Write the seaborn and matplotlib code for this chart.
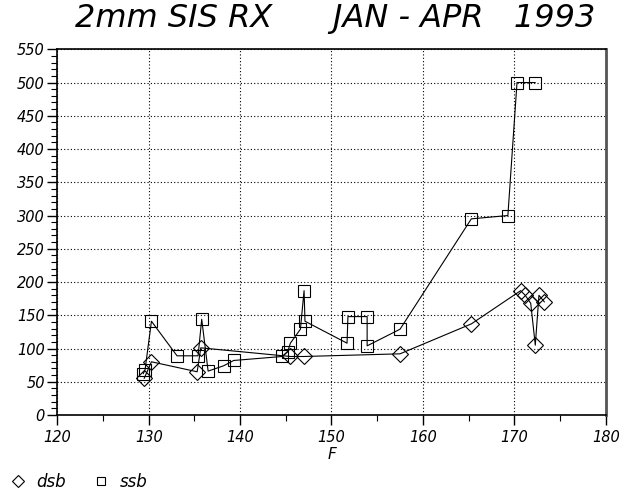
import matplotlib
matplotlib.use("Agg")
import matplotlib.pyplot as plt
import seaborn as sns
import pandas as pd
from matplotlib.lines import Line2D
from matplotlib.ticker import MultipleLocator

# dsb series (diamonds)
dsb_f = [129.5, 130.3, 135.3, 135.7, 145.5, 147.0, 157.5, 165.3,
         170.7, 171.2, 171.8, 172.3, 172.7, 173.3]
dsb_v = [55, 80, 65, 101, 88, 88, 92, 137, 187, 180, 168, 105, 180, 170]

# ssb series (squares)
ssb_f = [129.4, 129.6, 130.3, 133.1, 135.4, 135.8, 136.5, 138.2, 139.3,
         144.6, 145.2, 145.5, 146.6, 147.0, 147.1, 151.7, 151.8, 153.9,
         153.9, 157.5, 165.3, 169.3, 170.3, 172.3]
ssb_v = [62, 68, 141, 89, 89, 144, 66, 74, 82,
         88, 95, 108, 129, 187, 141, 108, 148, 148,
         104, 129, 295, 300, 500, 500]

title = "2mm SIS RX      JAN - APR   1993"

sns.set_style("white")
plt.rcParams['font.family'] = ['DejaVu Sans']
plt.rcParams['font.style'] = 'italic'
plt.rcParams['text.color'] = 'black'
plt.rcParams['axes.labelcolor'] = 'black'
plt.rcParams['xtick.color'] = 'black'
plt.rcParams['ytick.color'] = 'black'

fig = plt.figure(figsize=(6.21, 4.91), dpi=100)
ax = fig.add_axes([0.0923, 0.1548, 0.883, 0.7448])

dsb = pd.DataFrame({"F": dsb_f, "v": dsb_v})
ssb = pd.DataFrame({"F": ssb_f, "v": ssb_v})

sns.lineplot(data=ssb, x="F", y="v", sort=False, estimator=None, color="black",
             lw=0.8, marker="s", markersize=8, markerfacecolor="none",
             markeredgecolor="black", markeredgewidth=0.8, ax=ax)
sns.lineplot(data=dsb, x="F", y="v", sort=False, estimator=None, color="black",
             lw=0.8, marker="D", markersize=8.5, markerfacecolor="none",
             markeredgecolor="black", markeredgewidth=0.8, ax=ax)

ax.set_xlim(120, 180)
ax.set_ylim(0, 550)
ax.xaxis.set_major_locator(MultipleLocator(10))
ax.xaxis.set_minor_locator(MultipleLocator(5))
ax.yaxis.set_major_locator(MultipleLocator(50))
ax.yaxis.set_minor_locator(MultipleLocator(10))
ax.tick_params(axis="both", which="both", bottom=True, left=True, top=False,
               right=False)
ax.tick_params(axis="both", which="major", direction="out", length=7, width=1,
               color="black", labelsize=10.5, pad=2)
ax.tick_params(axis="both", which="minor", direction="out", length=4, width=0.8,
               color="black")
ax.tick_params(axis="x", which="major", pad=4)

ax.grid(True, which="major", color="black", linestyle=(0, (1, 2)), linewidth=0.8)
for s in ["left", "bottom", "top"]:
    ax.spines[s].set_color("black")
    ax.spines[s].set_linewidth(1.2)
ax.spines["right"].set_color("#555555")
ax.spines["right"].set_linewidth(2)

ax.set_xlabel("F", fontsize=11, labelpad=1)
ax.set_ylabel("")
for lbl in ax.get_xticklabels() + ax.get_yticklabels():
    lbl.set_style("italic")

fig.text(0.54, 0.963, title, ha="center", va="center", fontsize=23,
         style="italic", color="black")

handles = [
    Line2D([], [], linestyle="none", marker="D", markersize=6,
           markerfacecolor="none", markeredgecolor="black", markeredgewidth=0.8),
    Line2D([], [], linestyle="none", marker="s", markersize=6,
           markerfacecolor="none", markeredgecolor="black", markeredgewidth=0.8),
]
fig.legend(handles, ["dsb", "ssb"], loc="lower left", bbox_to_anchor=(-0.008, -0.03),
           ncol=2, frameon=False, fontsize=12, handlelength=1.0,
           handletextpad=0.6, columnspacing=1.6)

fig.savefig("out.png", dpi=100)
